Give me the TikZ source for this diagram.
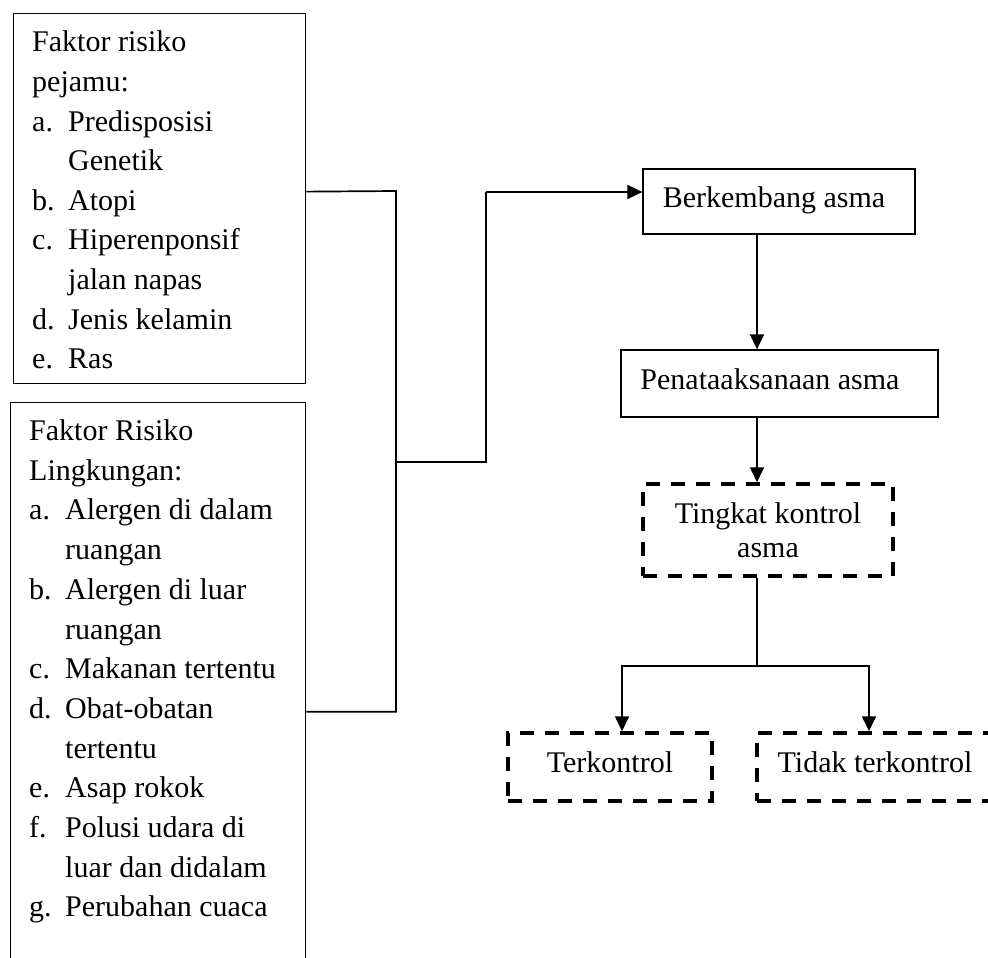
\documentclass[tikz,border=0pt]{standalone}
\usepackage{fontspec}
\setmainfont{Liberation Serif}
\usetikzlibrary{arrows.meta}
\newcommand{\lstitem}[1]{\makebox[36pt][l]{#1}}
\newcommand{\lstcont}{\hspace*{36pt}}
\tikzset{
  sbox/.style={draw, line width=1.3pt, inner sep=0pt, font=\fontsize{30}{34}\selectfont,
    text height=20.5pt, text depth=9pt},
  dbox/.style={draw, line width=3.5pt, dash pattern=on 14pt off 11pt, inner sep=0pt,
    font=\fontsize{30}{34}\selectfont},
  conn/.style={line width=1.7pt},
  arr/.style={conn, -{Triangle[length=15pt,width=14pt]}},
  listtext/.style={anchor=base west, inner sep=0pt}
}
\begin{document}
\begin{tikzpicture}[x=1pt, y=-1pt]
\useasboundingbox (0,0) rectangle (988,958);
\fill[white] (0,0) rectangle (988,958);

% left boxes
\node[sbox, anchor=north west, minimum width=292pt, minimum height=370pt] (b1) at (13,13) {};
\node[sbox, anchor=north west, minimum width=295pt, minimum height=618pt] (b2) at (10,402) {};

\node[listtext] (t1) at (32,52) {\parbox[t]{270pt}{\fontsize{30}{39.6}\selectfont
Faktor risiko\\
pejamu:\\
\lstitem{a.}Predisposisi\\
\lstcont Genetik\\
\lstitem{b.}Atopi\\
\lstitem{c.}Hiperenponsif\\
\lstcont jalan napas\\
\lstitem{d.}Jenis kelamin\\
\lstitem{e.}Ras}};

\node[listtext] (t2) at (29,440.5) {\parbox[t]{274pt}{\fontsize{30}{39.7}\selectfont
Faktor Risiko\\
Lingkungan:\\
\lstitem{a.}Alergen di dalam\\
\lstcont ruangan\\
\lstitem{b.}Alergen di luar\\
\lstcont ruangan\\
\lstitem{c.}Makanan tertentu\\
\lstitem{d.}Obat-obatan\\
\lstcont tertentu\\
\lstitem{e.}Asap rokok\\
\lstitem{f.}Polusi udara di\\
\lstcont luar dan didalam\\
\lstitem{g.}Perubahan cuaca}};

% right column
\node[sbox, minimum width=272pt, minimum height=65pt] (bk) at (779,201.5) {Berkembang asma\hspace*{10pt}};
\node[sbox, minimum width=317pt, minimum height=67pt] (pn) at (779.5,383.5) {Penataaksanaan asma\hspace*{19pt}};
\node[dbox, minimum width=250pt, minimum height=92pt, align=center] (tk) at (768,530) {Tingkat kontrol\\asma};
\node[dbox, minimum width=204pt, minimum height=68pt, text height=20.5pt, text depth=10pt] (tko) at (610,767) {Terkontrol};
\node[dbox, minimum width=236pt, minimum height=68pt, text height=20.5pt, text depth=10pt] (tdk) at (875,767) {Tidak terkontrol};

% connector coordinates
\coordinate (j1) at (396,191);
\coordinate (j3) at (396,462);
\coordinate (j4) at (486,462);
\coordinate (j5) at (486,192);
\coordinate (cx) at (757,0);
\coordinate (br) at (757,666);
\coordinate (bl) at (622,666);
\coordinate (brr) at (869,666);

% connectors
\draw[conn] ([yshift=7pt]b1.east) -- (j1) |- (b2.east);
\draw[conn] (j3) -- (j4) -- (j5);
\draw[arr] (j5) -- (j5 -| bk.west);
\draw[arr] (bk.south -| cx) -- (pn.north -| cx);
\draw[arr] (pn.south -| cx) -- (tk.north -| cx);
\draw[conn] (tk.south -| cx) -- (br);
\draw[arr] (br) -- (bl) -- (bl |- tko.north);
\draw[arr] (br) -- (brr) -- (brr |- tdk.north);
\end{tikzpicture}
\end{document}
